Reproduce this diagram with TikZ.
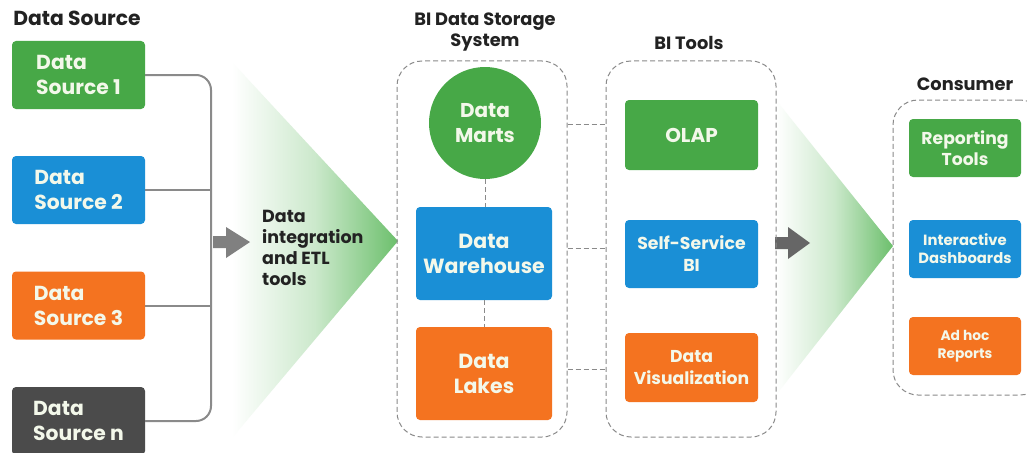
\documentclass[tikz,border=0pt]{standalone}
\usepackage{fontspec}
\setmainfont{Poppins}
\usetikzlibrary{shapes.geometric}
\definecolor{cgreen}{HTML}{47A847}
\definecolor{cblue}{HTML}{1A8FD6}
\definecolor{corange}{HTML}{F47320}
\definecolor{cdark}{HTML}{4B4B4B}
\definecolor{cline}{HTML}{8A8A8A}
\definecolor{ctext}{HTML}{F3F8EA}
\definecolor{ctri}{HTML}{6CBF6C}
\definecolor{ctitle}{HTML}{222222}
\begin{document}
\begin{tikzpicture}[x=1pt,y=-1pt,
  box/.style={rounded corners=4pt, text=ctext, align=center, inner sep=0pt},
  srcbox/.style={box, minimum width=133pt, minimum height=68pt, align=left,
     font=\bfseries\fontsize{20.3}{25}\selectfont},
  container/.style={draw=cline, dashed, dash pattern=on 5pt off 3pt, line width=1pt, rounded corners=25pt,
     inner sep=0pt},
  dline/.style={draw=cline, dash pattern=on 5pt off 3pt, line width=1pt},
  conn/.style={draw=cline, line width=2pt, rounded corners=15pt},
  title/.style={text=ctitle, font=\bfseries\fontsize{17.8}{21}\selectfont, align=center, inner sep=0pt},
]
\useasboundingbox (0,0) rectangle (1027,452);
\clip (0,0) rectangle (1027,452);
\fill[white] (0,0) rectangle (1027,452);

% gradient triangles
\shade[left color=white, right color=ctri, middle color=ctri!35] (232,62) -- (398,241) -- (232,438) -- cycle;
\shade[left color=white, right color=ctri, middle color=ctri!35] (776,100) -- (893,246) -- (776,395) -- cycle;

% titles
\node[title, font=\bfseries\fontsize{20.3}{24}\selectfont] (tsrc) at (77,18) {Data Source};
\node[title] (tstore) at (485,32) {BI Data Storage\\System};
\node[title] (ttools) at (689,43) {BI Tools};
\node[title] (tcons) at (965,84) {Consumer};

% data sources
\node[srcbox, fill=cgreen] (ds1) at (78.5,75) {Data\\Source 1};
\node[srcbox, fill=cblue] (ds2) at (78.5,190) {Data\\Source 2};
\node[srcbox, fill=corange] (ds3) at (78.5,305.5) {Data\\Source 3};
\node[srcbox, fill=cdark] (dsn) at (78.5,421) {Data\\Source n};

\coordinate (bar) at (211,240);
\draw[conn] (ds1.east) -- (ds1.east -| bar) -- (dsn.east -| bar) -- (dsn.east);
\draw[conn] (ds2.east) -- (ds2.east -| bar);
\draw[conn] (ds3.east) -- (ds3.east -| bar);

% arrows
\fill[fill=black!50] (213,236) -- (226,236) -- (226,227) -- (250,242) -- (226,258) -- (226,248) -- (213,248) -- cycle;
\fill[fill=black!60] (775,237) -- (788,237) -- (788,227) -- (810,243) -- (788,259) -- (788,249) -- (775,249) -- cycle;

\node[anchor=west, align=left, text=ctitle, font=\bfseries\fontsize{17.5}{21}\selectfont, inner sep=0pt] (etl) at (262,248)
  {Data\\integration\\and ETL\\tools};

% containers
\node[container, minimum width=170pt, minimum height=376pt] (c1) at (482,249) {};
\node[container, minimum width=170pt, minimum height=376pt] (c2) at (691,249) {};
\node[container, minimum width=152pt, minimum height=295pt] (c3) at (969,247.5) {};

% storage
\node[circle, fill=cgreen, text=ctext, align=center, inner sep=0pt, minimum size=112pt,
  font=\bfseries\fontsize{20}{25}\selectfont] (mart) at (485,123) {Data\\Marts};
\node[box, fill=cblue, minimum width=136pt, minimum height=93pt, font=\bfseries\fontsize{20.5}{25}\selectfont] (wh) at (484,253.5) {Data\\Warehouse};
\node[box, fill=corange, minimum width=136pt, minimum height=93pt, font=\bfseries\fontsize{20.5}{25}\selectfont] (lk) at (484,373.5) {Data\\Lakes};
\draw[dline] (mart.south) -- (mart.south |- wh.north);
\draw[dline] (wh.south) -- (lk.north);

% BI tools
\node[box, fill=cgreen, minimum width=133pt, minimum height=70pt, font=\bfseries\fontsize{20}{24}\selectfont] (olap) at (691.5,135) {OLAP};
\node[box, fill=cblue, minimum width=133pt, minimum height=68pt, font=\bfseries\fontsize{17.3}{22}\selectfont] (ssbi) at (691.5,254) {Self-Service\\BI};
\node[box, fill=corange, minimum width=133pt, minimum height=69pt, font=\bfseries\fontsize{17.2}{22}\selectfont] (dvis) at (691.5,367.5) {Data\\Visualization};

\coordinate (h1) at (0,124);
\coordinate (h2) at (0,248);
\coordinate (h3) at (0,369);
\draw[dline] (c1.east |- h1) -- (c2.west |- h1);
\draw[dline] (c1.east |- h2) -- (c2.west |- h2);
\draw[dline] (c1.east |- h3) -- (c2.west |- h3);

% consumer
\node[box, fill=cgreen, minimum width=112pt, minimum height=58pt, font=\bfseries\fontsize{17.2}{21}\selectfont] (rep) at (965,148) {Reporting\\Tools};
\node[box, fill=cblue, minimum width=112pt, minimum height=58pt, font=\bfseries\fontsize{14.8}{18}\selectfont] (dash) at (965,249) {Interactive\\Dashboards};
\node[box, fill=corange, minimum width=112pt, minimum height=58pt, font=\bfseries\fontsize{13.8}{18}\selectfont] (adhoc) at (965,346) {Ad hoc\\Reports};
\end{tikzpicture}
\end{document}
